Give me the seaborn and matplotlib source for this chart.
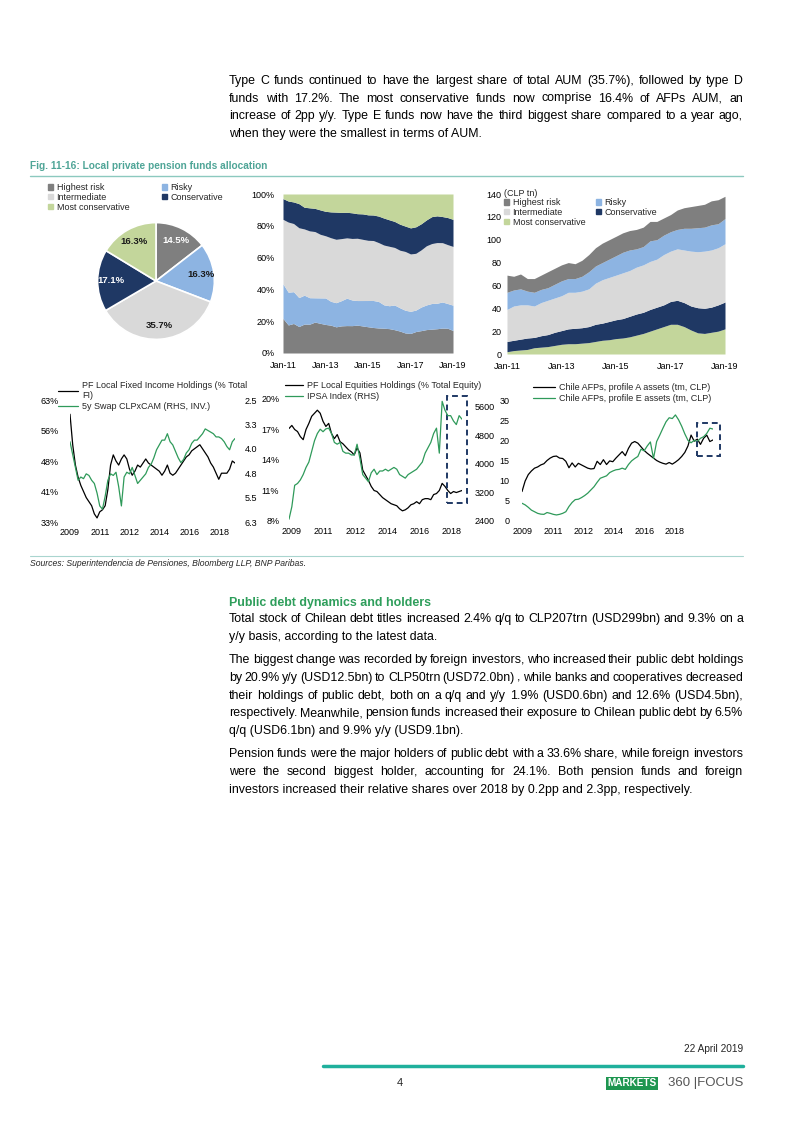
"""
Page 4 of the Markets 360 Focus report: Chilean pension fund allocation
charts plus the surrounding text, redrawn with seaborn / matplotlib.
Output: out.png
"""
import numpy as np
import pandas as pd
import matplotlib
matplotlib.use("Agg")
import matplotlib.pyplot as plt
from matplotlib.patches import Patch, Rectangle
from matplotlib.lines import Line2D
import seaborn as sns

W, H = 802, 1133

# --- Pie: current AUM split by fund type ---
fund_types = ["Highest risk", "Risky", "Intermediate", "Conservative", "Most conservative"]
pie_share = [14.5, 16.3, 35.7, 17.1, 16.3]

# --- AUM by fund type, CLP tn, quarterly Jan-11 .. Jan-19 ---
quarters = pd.date_range("2011-01-01", "2019-01-01", freq="QS")
aum_highest = [15, 12, 13, 11, 12, 12.5, 14, 14, 14, 14, 13, 14, 15, 16, 17, 17, 17,
               17, 17, 17, 17, 17, 16, 15, 15, 17, 18, 19, 19.5, 20, 21, 21, 19.5]
aum_risky = [15, 14, 14, 12, 12, 11.5, 11, 12, 13, 12, 12, 13, 15, 15, 15, 16, 17,
             18, 18, 16, 16, 18, 17, 17, 17, 17, 19, 20, 21, 21, 22, 21, 22]
aum_inter = [28, 30, 30, 29, 27.5, 29, 30, 30, 30.5, 32, 31.5, 32, 33, 36, 38, 38.5, 39,
             40, 40, 41, 41.5, 42, 42, 44, 44, 45, 46, 48, 49, 50, 50, 50, 51]
aum_cons = [9, 9, 9.5, 10, 9, 10, 10.5, 11.5, 12, 13, 13.5, 13.5, 14, 15, 15, 16, 16.5,
            17, 18, 18.5, 18.5, 19, 19, 19, 20, 21, 21, 21, 22, 22, 22, 23, 23.5]
aum_mostcons = [2, 3, 3.5, 4, 5.5, 6, 6.5, 7.5, 8.5, 9, 9, 9.5, 10, 11, 12, 12.5, 13.5,
                14, 15, 16.5, 18, 20, 22, 24, 26, 26, 24, 21, 18.5, 18, 19, 20, 22]

# --- bi-monthly series, Jan 2009 .. Mar 2019 ---
years = 2009 + np.arange(62) / 6
fi_holdings = [59.5, 52, 47, 44, 42, 40.5, 39, 38, 37, 35, 34, 35.5, 36, 37, 41, 47,
               49.5, 48, 47, 48.5, 49.5, 48.5, 46, 44.5, 45.5, 47, 46.5, 47.5, 48.5, 47.5,
               47, 46.5, 46, 45.5, 44.5, 45.5, 47, 45, 44.5, 45, 46, 47, 48, 49, 49.5,
               50.5, 51, 51.5, 52, 51, 50, 49, 47.5, 46.5, 45, 43.5, 45, 45, 45, 46, 48, 47.5]
swap_5y = [3.8, 4.2, 4.6, 5.0, 4.9, 4.95, 4.8, 4.85, 5.0, 5.1, 5.4, 5.8, 5.9, 5.5, 5.0,
           4.8, 4.85, 4.75, 5.2, 5.8, 4.9, 4.75, 4.8, 4.6, 4.85, 5.1, 5.0, 4.9, 4.8, 4.6,
           4.5, 4.3, 4.05, 3.9, 3.75, 3.75, 3.55, 3.8, 3.9, 4.1, 4.3, 4.45, 4.35, 4.15,
           4.05, 3.85, 3.75, 3.75, 3.65, 3.55, 3.4, 3.45, 3.5, 3.55, 3.65, 3.65, 3.7, 3.8,
           3.95, 4.05, 3.8, 3.7]
eq_holdings = [17.1, 17.4, 17.0, 16.8, 16.3, 16.0, 17.0, 17.6, 18.3, 18.6, 18.9, 18.6,
               17.8, 17.3, 17.6, 16.6, 16.1, 16.5, 15.8, 15.6, 15.3, 15.0, 14.8, 14.5,
               15.2, 14.7, 13.0, 12.5, 12.0, 11.4, 11.0, 10.9, 10.6, 10.3, 10.1, 9.9, 9.7,
               9.6, 9.5, 9.2, 9.0, 9.1, 9.3, 9.6, 9.7, 9.9, 9.7, 10.1, 10.2, 10.2, 10.1,
               10.6, 10.7, 11.0, 11.7, 11.4, 11.0, 10.7, 10.9, 10.8, 10.9, 11.0]
ipsa = [2450, 2800, 3400, 3450, 3550, 3700, 3900, 4050, 4350, 4650, 4850, 4970, 4900,
        4980, 5000, 4850, 4600, 4550, 4600, 4350, 4300, 4300, 4250, 4250, 4550, 4150,
        3700, 3600, 3500, 3750, 3850, 3700, 3800, 3800, 3850, 3800, 3850, 3900, 3850,
        3700, 3650, 3600, 3700, 3750, 3800, 3850, 3950, 4050, 4300, 4450, 4600, 4850,
        5000, 4300, 5750, 5500, 5350, 5350, 5200, 5100, 5350, 5250]
profile_a = [7.3, 9.9, 11.5, 12.4, 13.1, 13.4, 13.9, 14.2, 15.0, 15.6, 16.0, 16.1, 15.6,
             15.5, 14.8, 13.2, 14.4, 13.4, 14.3, 13.9, 13.5, 13.1, 12.9, 13.0, 14.8, 14.0,
             15.2, 14.0, 14.9, 14.7, 15.6, 16.4, 17.2, 16.2, 18.0, 19.3, 19.7, 19.3, 18.4,
             17.5, 16.8, 16.2, 15.6, 15.0, 14.6, 14.3, 14.1, 14.5, 14.1, 14.6, 15.2, 16.0,
             17.0, 18.6, 21.3, 19.8, 20.3, 19.0, 20.5, 21.3, 19.7, 20.1]
profile_e = [4.4, 4.0, 3.4, 2.7, 2.3, 1.9, 1.7, 1.65, 2.1, 1.9, 1.65, 1.5, 1.65, 1.9, 2.3,
             3.6, 4.6, 5.3, 5.4, 5.8, 6.3, 6.9, 7.7, 8.5, 9.6, 10.6, 10.9, 11.2, 12.0, 12.4,
             12.7, 12.8, 13.1, 12.8, 14.0, 14.9, 15.5, 16.0, 17.8, 17.4, 18.6, 19.6, 15.5,
             19.7, 21.3, 23.0, 24.6, 25.6, 25.4, 26.3, 25.1, 23.5, 21.6, 20.0, 19.4, 20.0,
             19.7, 20.5, 20.9, 21.7, 23.0, 22.8]

# tick labels as printed on the charts
fi_ticks = ["33%", "41%", "48%", "56%", "63%"]
swap_ticks = ["2.5", "3.3", "4.0", "4.8", "5.5", "6.3"]
year_ticks = ["2009", "2011", "2012", "2014", "2016", "2018"]
month_ticks = ["Jan-11", "Jan-13", "Jan-15", "Jan-17", "Jan-19"]

FUND_COLORS = ["#7f7f7f", "#8db4e2", "#d9d9d9", "#1f3864", "#c3d69b"]
GREEN = "#2f9a5a"
NAVY = "#1f3864"
FS = 6.5

sns.set_theme(style="white")
plt.rcParams["font.family"] = ["Liberation Sans", "DejaVu Sans"]
plt.rcParams["axes.unicode_minus"] = False

fig = plt.figure(figsize=(W / 100, H / 100), dpi=100)
fig.patch.set_facecolor("white")
renderer = fig.canvas.get_renderer()


def fx(x):
    return x / W


def fy(y):
    return 1 - y / H


def box(x0, y0, x1, y1):
    return fig.add_axes([fx(x0), fy(y1), (x1 - x0) / W, (y1 - y0) / H])


def bare(ax):
    for s in ax.spines.values():
        s.set_visible(False)
    ax.tick_params(length=0, labelsize=FS, colors="black")
    ax.set_xlabel("")
    ax.set_ylabel("")
    ax.grid(False)


def put_line(line, y, x0=229, x1=743, justify=True, **kw):
    if not justify:
        fig.text(fx(x0), fy(y), line, va="center", ha="left", **kw)
        return
    words = line.split(" ")
    ts = [fig.text(0, fy(y), w, va="center", ha="left", **kw) for w in words]
    ws = [t.get_window_extent(renderer).width for t in ts]
    gap = (x1 - x0 - sum(ws)) / (len(ws) - 1)
    x = x0
    for t, w in zip(ts, ws):
        t.set_x(fx(x))
        x += w + gap


def paragraph(lines, y0, step, size):
    for i, ln in enumerate(lines):
        put_line(ln, y0 + i * step, justify=i < len(lines) - 1, fontsize=size, color="black")


# ---------- body text ----------
BODY = 8.9
paragraph([
    "Type C funds continued to have the largest share of total AUM (35.7%), followed by type D",
    "funds with 17.2%. The most conservative funds now comprise 16.4% of AFPs AUM, an",
    "increase of 2pp y/y. Type E funds now have the third biggest share compared to a year ago,",
    "when they were the smallest in terms of AUM.",
], 81, 17.5, BODY)

fig.text(fx(30), fy(166), "Fig. 11-16: Local private pension funds allocation",
         fontsize=7.3, fontweight="bold", color="#4fa597", va="center")
fig.add_artist(Line2D([fx(30), fx(743)], [fy(176), fy(176)], color="#8cc9bf", lw=1))
fig.add_artist(Line2D([fx(30), fx(743)], [fy(556), fy(556)], color="#a9d5cf", lw=0.8))
fig.text(fx(30), fy(563), "Sources: Superintendencia de Pensiones, Bloomberg LLP, BNP Paribas.",
         fontsize=6.2, fontstyle="italic", va="center")

fig.text(fx(229), fy(603), "Public debt dynamics and holders", fontsize=8.9,
         fontweight="bold", color="#2e9e5b", va="center")
paragraph([
    "Total stock of Chilean debt titles increased 2.4% q/q to CLP207trn (USD299bn) and 9.3% on a",
    "y/y basis, according to the latest data.",
], 619, 18, BODY)
paragraph([
    "The biggest change was recorded by foreign investors, who increased their public debt holdings",
    "by 20.9% y/y (USD12.5bn) to CLP50trn (USD72.0bn) , while banks and cooperatives decreased",
    "their holdings of public debt, both on a q/q and y/y 1.9% (USD0.6bn) and 12.6% (USD4.5bn),",
    "respectively. Meanwhile, pension funds increased their exposure to Chilean public debt by 6.5%",
    "q/q (USD6.1bn) and 9.9% y/y (USD9.1bn).",
], 660, 17.8, BODY)
paragraph([
    "Pension funds were the major holders of public debt with a 33.6% share, while foreign investors",
    "were the second biggest holder, accounting for 24.1%. Both pension funds and foreign",
    "investors increased their relative shares over 2018 by 0.2pp and 2.3pp, respectively.",
], 754, 18, BODY)

# ---------- footer ----------
fig.text(fx(743), fy(1049), "22 April 2019", fontsize=7.3, ha="right", va="center")
fig.add_artist(Line2D([fx(323), fx(743)], [fy(1066), fy(1066)], color="#1fb09c", lw=2.5))
fig.text(fx(400), fy(1083), "4", fontsize=8, ha="center", va="center")
fig.text(fx(607), fy(1083), "MARKETS", fontsize=7.2, fontweight="bold", color="white",
         va="center", ha="left",
         bbox=dict(boxstyle="square,pad=0.15", fc="#1e9650", ec="none"))
fig.text(fx(743), fy(1083), "360 |FOCUS", fontsize=9.5, color="#555555", ha="right", va="center")

# ---------- pie ----------
ax_pie = box(83, 208, 229, 354)
total = sum(pie_share)
wedges, _, autotexts = ax_pie.pie(
    pie_share, colors=FUND_COLORS, startangle=90, counterclock=False,
    autopct=lambda p: f"{p * total / 100:.1f}%", pctdistance=0.77,
    wedgeprops=dict(edgecolor="white", linewidth=1.2),
    textprops=dict(fontsize=FS + 0.3, fontweight="bold"))
for t, c in zip(autotexts, ["white", "#1a1a1a", "#1a1a1a", "white", "#1a1a1a"]):
    t.set_color(c)
ax_pie.set_aspect("equal")

legend_order = [0, 2, 4, 1, 3]
fig.legend(handles=[Patch(color=FUND_COLORS[i]) for i in legend_order],
           labels=[fund_types[i] for i in legend_order], ncol=2,
           loc="upper left", bbox_to_anchor=(fx(48), fy(183)), frameon=False,
           fontsize=FS, handlelength=0.55, handleheight=0.55, handletextpad=0.4,
           borderpad=0, borderaxespad=0, labelspacing=0.1, columnspacing=3.6)

# ---------- stacked share chart ----------
aum = pd.DataFrame({"Highest risk": aum_highest, "Risky": aum_risky,
                    "Intermediate": aum_inter, "Conservative": aum_cons,
                    "Most conservative": aum_mostcons}, index=quarters)
shares = aum.div(aum.sum(axis=1), axis=0) * 100

ax_pct = box(283, 194, 453, 353)
ax_pct.stackplot(quarters, *[shares[c] for c in fund_types], colors=FUND_COLORS, lw=0)
ax_pct.set_xlim(quarters[0], quarters[-1])
ax_pct.set_ylim(0, 100)
ax_pct.set_yticks(range(0, 101, 20))
ax_pct.set_yticklabels([f"{v}%" for v in range(0, 101, 20)])
ax_pct.set_xticks(pd.to_datetime(["2011-01-01", "2013-01-01", "2015-01-01",
                                  "2017-01-01", "2019-01-01"]))
ax_pct.set_xticklabels(month_ticks)
bare(ax_pct)
ax_pct.tick_params(axis="y", pad=6)
ax_pct.tick_params(axis="x", pad=6)

# ---------- stacked level chart ----------
ax_lvl = box(507, 194, 725, 354)
rev = fund_types[::-1]
ax_lvl.stackplot(quarters, *[aum[c] for c in rev], colors=FUND_COLORS[::-1], lw=0)
ax_lvl.set_xlim(quarters[0], quarters[-1])
ax_lvl.set_ylim(0, 140)
ax_lvl.set_yticks(range(0, 141, 20))
ax_lvl.set_xticks(pd.to_datetime(["2011-01-01", "2013-01-01", "2015-01-01",
                                  "2017-01-01", "2019-01-01"]))
ax_lvl.set_xticklabels(month_ticks)
bare(ax_lvl)
ax_lvl.tick_params(axis="y", pad=4)
ax_lvl.tick_params(axis="x", pad=6)
fig.text(fx(504), fy(193), "(CLP tn)", fontsize=FS, va="center")
fig.legend(handles=[Patch(color=FUND_COLORS[i]) for i in legend_order],
           labels=[fund_types[i] for i in legend_order], ncol=2,
           loc="upper left", bbox_to_anchor=(fx(504), fy(198)), frameon=False,
           fontsize=FS, handlelength=0.55, handleheight=0.55, handletextpad=0.4,
           borderpad=0, borderaxespad=0, labelspacing=0.1, columnspacing=1.2)


def line_legend(x, y, labels, hl):
    fig.legend(handles=[Line2D([], [], color="black", lw=0.9),
                        Line2D([], [], color=GREEN, lw=0.9)],
               labels=labels, loc="upper left", bbox_to_anchor=(fx(x), fy(y)),
               frameon=False, fontsize=FS, handlelength=hl, handletextpad=0.45,
               borderpad=0, borderaxespad=0, labelspacing=0.2)


# ---------- fixed income vs swap ----------
ax1 = box(70, 400, 235, 522)
sns.lineplot(x=years, y=fi_holdings, ax=ax1, color="black", lw=0.9)
ax1r = ax1.twinx()
sns.lineplot(x=years, y=swap_5y, ax=ax1r, color=GREEN, lw=0.9)
ax1.set_xlim(years[0], years[-1])
ax1.set_ylim(33, 63)
ax1.set_yticks(np.linspace(33, 63, 5))
ax1.set_yticklabels(fi_ticks)
ax1r.set_ylim(6.3, 2.5)
ax1r.set_yticks(np.linspace(2.5, 6.3, 6))
ax1r.set_yticklabels(swap_ticks)
ax1.set_xticks(2009 + np.arange(6) * 1.84)
ax1.set_xticklabels(year_ticks)
for a in (ax1, ax1r):
    bare(a)
ax1.tick_params(axis="y", pad=8)
ax1r.tick_params(axis="y", pad=7)
ax1.tick_params(axis="x", pad=4)
line_legend(58, 381, ["PF Local Fixed Income Holdings (% Total\nFI)",
                      "5y Swap CLPxCAM (RHS, INV.)"], 2.2)

# ---------- equities vs IPSA ----------
ax2 = box(289, 399, 462, 521)
sns.lineplot(x=years, y=eq_holdings, ax=ax2, color="black", lw=0.9)
ax2r = ax2.twinx()
sns.lineplot(x=years, y=ipsa, ax=ax2r, color=GREEN, lw=0.9)
ax2.set_xlim(years[0], years[-1])
ax2.set_ylim(8, 20)
ax2.set_yticks(range(8, 21, 3))
ax2.set_yticklabels([f"{v}%" for v in range(8, 21, 3)])
ax2r.set_ylim(2400, 5816)
ax2r.set_yticks(range(2400, 5601, 800))
ax2.set_xticks(2009.16 + np.arange(6) * 1.88)
ax2.set_xticklabels(year_ticks)
for a in (ax2, ax2r):
    bare(a)
ax2.tick_params(axis="y", pad=7)
ax2r.tick_params(axis="y", pad=9)
ax2.tick_params(axis="x", pad=4)
ax2.add_patch(Rectangle((2018.29, 9.8), 1.18, 10.5, fill=False, ec=NAVY, lw=1.4,
                        ls=(0, (3, 2)), clip_on=False, zorder=5))
line_legend(285, 381, ["PF Local Equities Holdings (% Total Equity)",
                       "IPSA Index (RHS)"], 2.0)

# ---------- profile A vs profile E ----------
ax3 = box(522, 400, 713, 521)
sns.lineplot(x=years, y=profile_a, ax=ax3, color="black", lw=0.9)
sns.lineplot(x=years, y=profile_e, ax=ax3, color=GREEN, lw=0.9)
ax3.set_xlim(years[0], years[-1])
ax3.set_ylim(0, 30)
ax3.set_yticks(range(0, 31, 5))
ax3.set_xticks(2009.03 + np.arange(6) * 1.62)
ax3.set_xticklabels(year_ticks)
bare(ax3)
ax3.tick_params(axis="y", pad=9)
ax3.tick_params(axis="x", pad=4)
ax3.add_patch(Rectangle((2018.31, 16.1), 1.22, 8.2, fill=False, ec=NAVY, lw=1.4,
                        ls=(0, (3, 2)), clip_on=False, zorder=5))
line_legend(533, 383, ["Chile AFPs, profile A assets (tm, CLP)",
                       "Chile AFPs, profile E assets (tm, CLP)"], 2.4)

fig.savefig("out.png", dpi=100, facecolor="white")
